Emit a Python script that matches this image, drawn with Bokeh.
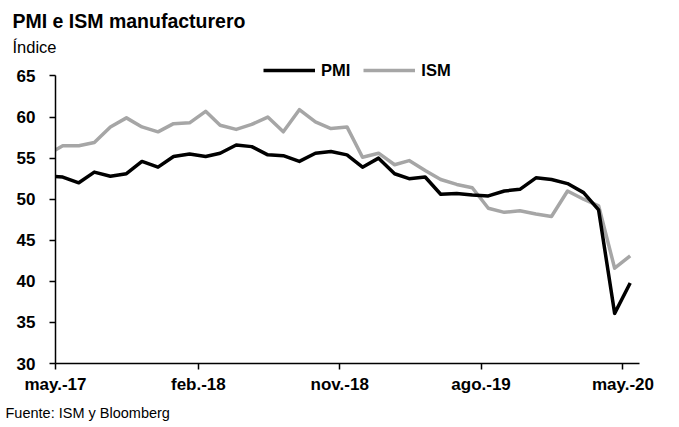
import pandas as pd
from bokeh.plotting import figure
from bokeh.models import Range1d, FixedTicker, Legend, LegendItem, ColumnDataSource, Title
from bokeh.embed import file_html
from bokeh.resources import INLINE

# ---- data (monthly, Apr-2017 .. May-2020) ----
month_labels = pd.period_range("2017-04", "2020-05", freq="M")
pmi = [52.8, 52.7, 52.0, 53.3, 52.8, 53.1, 54.6, 53.9, 55.2, 55.5,
       55.2, 55.6, 56.6, 56.4, 55.4, 55.3, 54.6, 55.6, 55.8, 55.4,
       53.9, 55.0, 53.1, 52.5, 52.7, 50.6, 50.7, 50.5, 50.4, 51.0,
       51.2, 52.6, 52.4, 51.9, 50.8, 48.7, 36.1, 39.8]
ism = [55.4, 56.5, 56.5, 56.9, 58.8, 59.9, 58.8, 58.2, 59.2, 59.3,
       60.7, 59.0, 58.5, 59.1, 60.0, 58.2, 60.9, 59.4, 58.6, 58.8,
       55.1, 55.6, 54.2, 54.7, 53.5, 52.4, 51.8, 51.4, 48.9, 48.4,
       48.6, 48.2, 47.9, 51.0, 50.0, 49.2, 41.6, 43.1]
tick_dates = ["2017-05-01", "2018-02-01", "2018-11-01", "2019-08-01", "2020-05-01"]
tick_labels = ["may.-17", "feb.-18", "nov.-18", "ago.-19", "may.-20"]
y_ticks = [30, 35, 40, 45, 50, 55, 60, 65]

dates = month_labels.to_timestamp() + pd.Timedelta(days=14)
src = ColumnDataSource(dict(date=dates, pmi=pmi, ism=ism))

FONT = "Liberation Sans"

p = figure(width=679, height=427, x_axis_type="datetime", title=None,
           output_backend="svg", toolbar_location=None,
           x_range=Range1d(pd.Timestamp("2017-05-01"), pd.Timestamp("2020-06-02")),
           y_range=Range1d(30, 67.25),
           min_border_left=55, min_border_right=40,
           min_border_top=57, min_border_bottom=64)
p.outline_line_color = None
p.xgrid.visible = False
p.ygrid.visible = False

r_ism = p.line("date", "ism", source=src, line_color="#A6A6A6", line_width=3.5, line_join="round")
r_pmi = p.line("date", "pmi", source=src, line_color="#000000", line_width=3.5, line_join="round")

tick_ms = [float(pd.Timestamp(d).value // 10**6) for d in tick_dates]
p.xaxis.ticker = FixedTicker(ticks=tick_ms)
p.xaxis.major_label_overrides = {t: l for t, l in zip(tick_ms, tick_labels)}
p.yaxis.ticker = FixedTicker(ticks=y_ticks)
p.yaxis.bounds = (30, 65)
for ax in (p.xaxis[0], p.yaxis[0]):
    ax.axis_line_color = "black"
    ax.axis_line_width = 1.5
    ax.major_tick_line_color = "black"
    ax.major_tick_line_width = 1.5
    ax.major_tick_out = 6
    ax.major_tick_in = 0
    ax.minor_tick_line_color = None
    ax.major_label_text_font = FONT
    ax.major_label_text_font_style = "bold"
    ax.major_label_text_font_size = "17px"
    ax.major_label_text_color = "black"
p.yaxis.major_label_standoff = 14
p.xaxis.major_label_standoff = 5

legend = Legend(items=[LegendItem(label="PMI", renderers=[r_pmi]),
                       LegendItem(label="ISM", renderers=[r_ism])],
                orientation="horizontal", location=(208, 283),
                glyph_width=52, glyph_height=20, label_height=20,
                label_standoff=6, spacing=13, padding=0, margin=0,
                border_line_color=None, background_fill_alpha=0,
                label_text_font=FONT, label_text_font_style="bold",
                label_text_font_size="16.5px", label_text_color="black")
p.add_layout(legend, "center")

# header: unit (closest to the frame) then chart title above it
p.add_layout(Title(text="Índice", align="left", offset=-43, standoff=4,
                   text_font=FONT, text_font_style="normal",
                   text_font_size="16.5px", text_color="black"), "above")
p.add_layout(Title(text="PMI e ISM manufacturero", align="left", offset=-43,
                   standoff=4, text_font=FONT, text_font_style="bold",
                   text_font_size="19.5px", text_color="black"), "above")
# footer: source
p.add_layout(Title(text="Fuente: ISM y Bloomberg", align="left", offset=-50,
                   standoff=13, text_font=FONT, text_font_style="normal",
                   text_font_size="14.5px", text_color="black"), "below")

open("out.html", "w").write(file_html(p, INLINE))
